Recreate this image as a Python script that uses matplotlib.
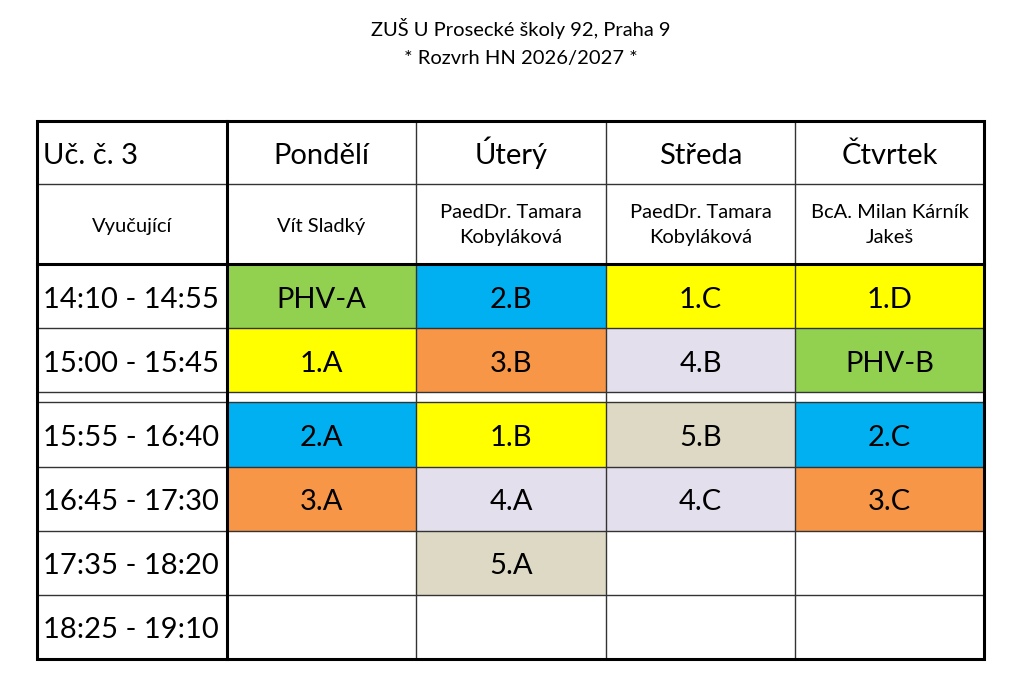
import matplotlib
matplotlib.use('Agg')
import matplotlib.pyplot as plt
from matplotlib.patches import Rectangle

plt.rcParams['font.family'] = ['Lato', 'DejaVu Sans']

title_lines = ['ZUŠ U Prosecké školy 92, Praha 9', '* Rozvrh HN 2026/2027 *']

corner = 'Uč. č. 3'
days = ['Pondělí', 'Úterý', 'Středa', 'Čtvrtek']
teacher_label = 'Vyučující'
teachers = ['Vít Sladký', 'PaedDr. Tamara\nKobyláková', 'PaedDr. Tamara\nKobyláková',
            'BcA. Milan Kárník\nJakeš']

times = ['14:10 - 14:55', '15:00 - 15:45', None, '15:55 - 16:40', '16:45 - 17:30',
         '17:35 - 18:20', '18:25 - 19:10']
# lessons per time row, per day (None row is the break)
lessons = [
    ['PHV-A', '2.B', '1.C', '1.D'],
    ['1.A', '3.B', '4.B', 'PHV-B'],
    None,
    ['2.A', '1.B', '5.B', '2.C'],
    ['3.A', '4.A', '4.C', '3.C'],
    ['', '5.A', '', ''],
    ['', '', '', ''],
]

# colours per class group
colors = {
    'PHV-A': '#92D050', 'PHV-B': '#92D050',
    '1.A': '#FFFF00', '1.B': '#FFFF00', '1.C': '#FFFF00', '1.D': '#FFFF00',
    '2.A': '#00B0F0', '2.B': '#00B0F0', '2.C': '#00B0F0',
    '3.A': '#F79646', '3.B': '#F79646', '3.C': '#F79646',
    '4.A': '#E4DFEC', '4.B': '#E4DFEC', '4.C': '#E4DFEC',
    '5.A': '#DDD9C4', '5.B': '#DDD9C4',
}

# table geometry in pixels
col_edges = [37, 227, 416, 606, 795, 984]
row_edges = [121, 184, 264, 328, 392, 402, 467, 531, 595, 659]

fig = plt.figure(figsize=(10.24, 6.95), dpi=100)
ax = fig.add_axes([0, 0, 1, 1])
ax.set_xlim(0, 1024)
ax.set_ylim(695, 0)
ax.axis('off')

ax.text(521, 36, title_lines[0], ha='center', va='baseline', fontsize=14.5)
ax.text(521, 64, title_lines[1], ha='center', va='baseline', fontsize=14.5)

big = 21
small = 14.5


def cell(c, r, text='', color='white', size=big, ha='center'):
    x0, x1 = col_edges[c], col_edges[c + 1]
    y0, y1 = row_edges[r], row_edges[r + 1]
    ax.add_patch(Rectangle((x0, y0), x1 - x0, y1 - y0, facecolor=color,
                           edgecolor='none', zorder=1))
    if text:
        tx = (x0 + x1) / 2 if ha == 'center' else x0 + 6
        if '\n' in text:
            ax.text(tx, (y0 + y1) / 2 + 1, text, ha=ha, va='center', fontsize=size,
                    linespacing=1.55, zorder=3)
        else:
            # baseline so that accents don't shift the text
            cap = 0.72 * size * 100 / 72
            ax.text(tx, (y0 + y1) / 2 + cap / 2 + 1, text, ha=ha, va='baseline',
                    fontsize=size, zorder=3)


# header rows
cell(0, 0, corner, ha='left')
for i, d in enumerate(days):
    cell(i + 1, 0, d)
cell(0, 1, teacher_label, size=small)
for i, t in enumerate(teachers):
    cell(i + 1, 1, t, size=small)

# time rows
for j, (tm, row) in enumerate(zip(times, lessons)):
    r = j + 2
    if row is None:
        for c in range(5):
            cell(c, r)
        continue
    cell(0, r, tm, ha='left')
    for i, les in enumerate(row):
        cell(i + 1, r, les, colors.get(les, 'white'))

# grid lines
thin = dict(color='#333333', lw=1.0, zorder=2)
thick = dict(color='black', lw=2.2, zorder=4)
for x in col_edges[2:-1]:
    ax.plot([x, x], [row_edges[0], row_edges[-1]], **thin)
for y in row_edges[1:-1]:
    ax.plot([col_edges[0], col_edges[-1]], [y, y], **thin)
ax.plot([col_edges[1], col_edges[1]], [row_edges[0], row_edges[-1]], **thick)
ax.plot([col_edges[0], col_edges[-1]], [row_edges[2], row_edges[2]], **thick)
ax.add_patch(Rectangle((col_edges[0], row_edges[0]), col_edges[-1] - col_edges[0],
                       row_edges[-1] - row_edges[0], fill=False, edgecolor='black',
                       lw=2.2, zorder=5))

plt.savefig('out.png', dpi=100)
